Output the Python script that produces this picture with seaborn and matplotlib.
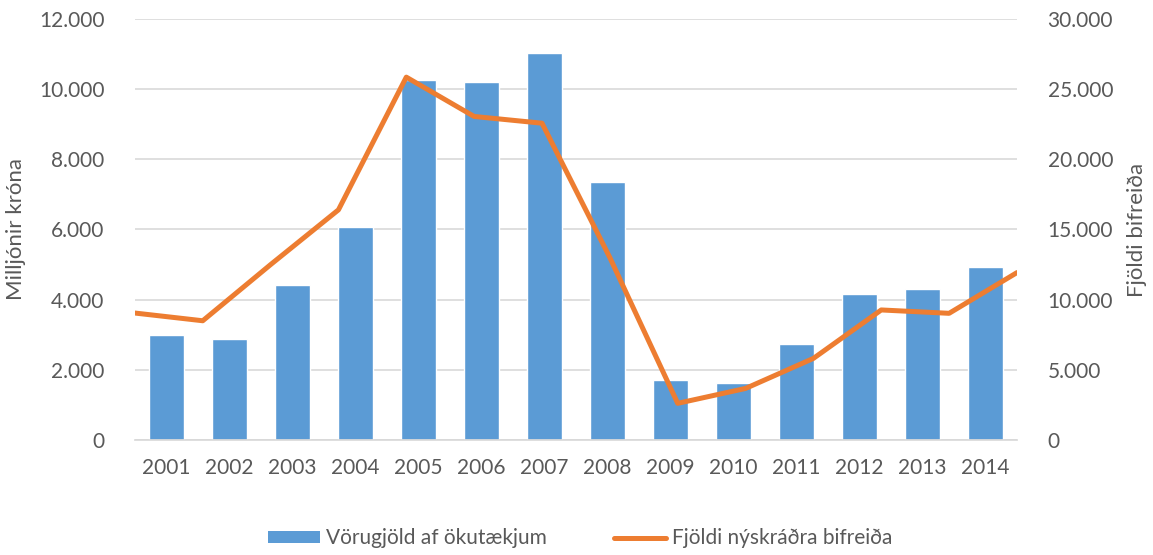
import numpy as np
import pandas as pd
import matplotlib
matplotlib.use("Agg")
import matplotlib.pyplot as plt
import seaborn as sns
from matplotlib.patches import Patch
from matplotlib.lines import Line2D
from matplotlib.ticker import FuncFormatter, MultipleLocator

# Data
years = ["2001", "2002", "2003", "2004", "2005", "2006", "2007",
         "2008", "2009", "2010", "2011", "2012", "2013", "2014"]
vorugjold = [3000, 2870, 4430, 6080, 10260, 10210, 11020,
             7350, 1710, 1630, 2730, 4170, 4300, 4930]
nyskraning = [9050, 8500, 12500, 16400, 25850, 23050, 22570,
              13000, 2620, 3680, 5820, 9270, 9030, 11930]

bar_color = "#5B9BD5"
line_color = "#ED7D31"
text_color = "#595959"
grid_color = "#D9D9D9"

sns.set_theme(style="white")
plt.rcParams['font.family'] = ['Lato', 'DejaVu Sans']

df = pd.DataFrame({"ar": years, "vorugjold": vorugjold, "nyskraning": nyskraning})
# line points run edge to edge of the plot area (Excel secondary axis style)
df["line_x"] = np.linspace(-0.5, len(years) - 0.5, len(years))

fig = plt.figure(figsize=(11.53, 5.55), dpi=100)
ax = fig.add_axes([0.117, 0.207, 0.765, 0.759])

sns.barplot(data=df, x="ar", y="vorugjold", color=bar_color, width=0.56,
            saturation=1, ax=ax, zorder=2)
ax.set_xlim(-0.5, len(years) - 0.5)
ax.set_ylim(0, 12000)
ax.yaxis.set_major_locator(MultipleLocator(2000))
fmt = FuncFormatter(lambda v, p: f"{int(v):,}".replace(",", "."))
ax.yaxis.set_major_formatter(fmt)
ax.grid(axis="y", color=grid_color, linewidth=1.2, zorder=0)
ax.set_axisbelow(True)
ax.set_xlabel("")
ax.set_ylabel("Milljónir króna", fontsize=16, color=text_color, labelpad=9)
ax.tick_params(axis="both", length=0, labelsize=15, labelcolor=text_color)
ax.tick_params(axis="x", pad=13)
ax.tick_params(axis="y", pad=22)
for s in ["top", "right", "left"]:
    ax.spines[s].set_visible(False)
ax.spines["bottom"].set_color(grid_color)

ax2 = ax.twinx()
sns.lineplot(data=df, x="line_x", y="nyskraning", color=line_color,
             linewidth=3.6, ax=ax2, zorder=3)
ax2.set_ylim(0, 30000)
ax2.set_xlim(-0.5, len(years) - 0.5)
ax2.yaxis.set_major_locator(MultipleLocator(5000))
ax2.yaxis.set_major_formatter(fmt)
ax2.set_ylabel("Fjöldi bifreiða", fontsize=16, color=text_color, labelpad=10)
ax2.tick_params(axis="y", length=0, labelsize=15, labelcolor=text_color, pad=22)
for s in ["top", "right", "left", "bottom"]:
    ax2.spines[s].set_visible(False)

handles = [Patch(facecolor=bar_color, edgecolor="none"),
           Line2D([0], [0], color=line_color, linewidth=3.6)]
labels = ["Vörugjöld af ökutækjum", "Fjöldi nýskráðra bifreiða"]
leg = fig.legend(handles, labels, loc="center", bbox_to_anchor=(0.503, 0.03),
                 ncol=2, frameon=False, fontsize=15, handlelength=2.5,
                 handleheight=0.5, columnspacing=3.2, handletextpad=0.3)
for t in leg.get_texts():
    t.set_color(text_color)

fig.savefig("out.png", dpi=100)
